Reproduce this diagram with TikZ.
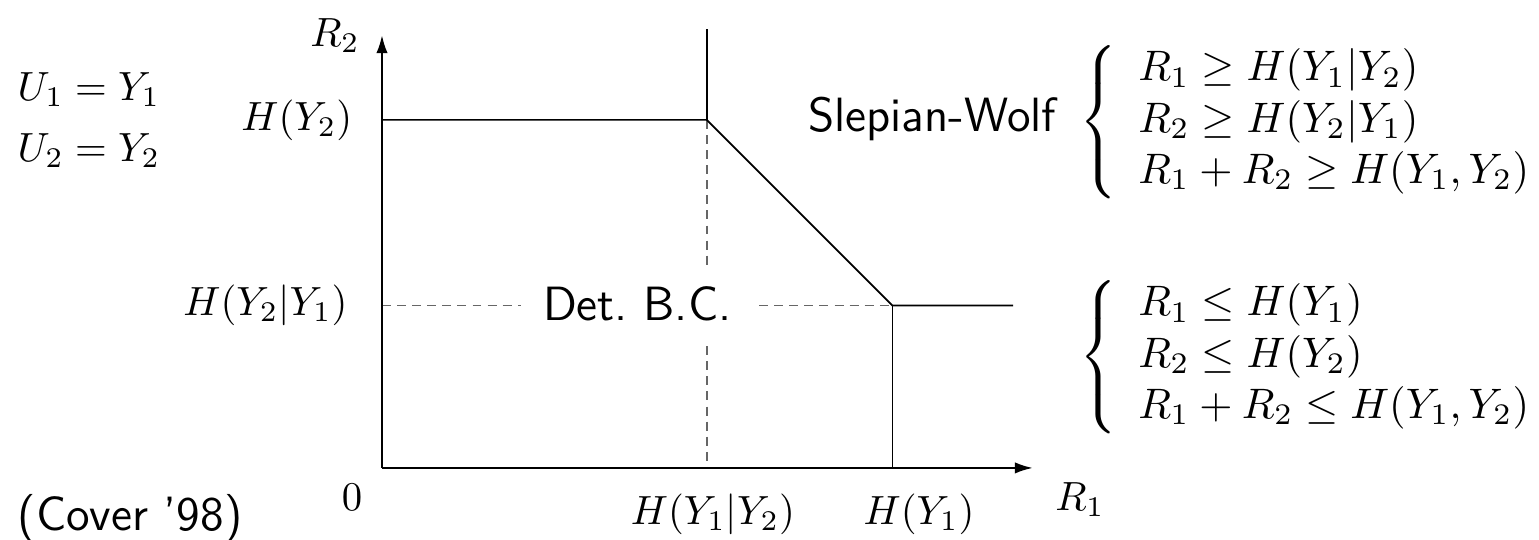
\documentclass[tikz,border=0pt]{standalone}
\usepackage{amsmath}
\usepackage{graphicx}
\usetikzlibrary{arrows.meta}

\newcommand{\condscale}[1]{\scalebox{1.046}{#1}}

\begin{document}
\begin{tikzpicture}[
            axis/.style={color=black, line width=0.5pt, -{Latex[length=4.4pt, width=2.8pt]}},
            boundary/.style={color=black, line width=0.4pt},
            guide/.style={color=black!60, line width=0.4pt, dash pattern=on 2.2pt off 1.5pt},
            mathlabel/.style={inner sep=0pt},
            condset/.style={inner sep=0pt, anchor=east},
            textlabel/.style={inner sep=0pt, font=\fontsize{11.8}{14}\selectfont\sffamily}
        ]
            \useasboundingbox (-3.293, -0.621) rectangle (9.974, 4.034);

            % corner points
            \coordinate (origin) at (0, 0);
            \coordinate (xend) at (5.61, 0);
            \coordinate (yend) at (0, 3.73);
            \coordinate (topleft) at (0, 3.0);
            \coordinate (cornerA) at (2.8, 3.0);
            \coordinate (cornerB) at (4.4, 1.4);
            \coordinate (vtop) at (2.8, 3.78);
            \coordinate (hright) at (5.44, 1.4);
            \coordinate (footA) at (2.8, 0);
            \coordinate (footB) at (4.4, 0);
            \coordinate (sideB) at (0, 1.4);

            % dashed guides
            \draw[guide] (sideB) -- (cornerB);
            \draw[guide] (cornerA) -- (footA);
            \node[textlabel, fill=white, minimum width=2cm, minimum height=0.66cm] (detbc) at (2.2, 1.414) {Det.\ B.C.};

            % axes
            \draw[axis] (origin) -- (xend);
            \draw[axis] (origin) -- (yend);

            % region boundary
            \draw[boundary] (topleft) -- (cornerA) -- (cornerB) -- (hright);
            \draw[boundary] (vtop) -- (cornerA);
            \draw[boundary] (cornerB) -- (footB);

            % axis labels
            \node[mathlabel] (rtwo) at (-0.405, 3.724) {$R_2$};
            \node[mathlabel] (rone) at (6.017, -0.27) {$R_1$};
            \node[mathlabel] (zero) at (-0.259, -0.25) {$0$};
            \node[mathlabel, anchor=east] (hytwo) at (-0.25, 3.0) {$H(Y_2)$};
            \node[mathlabel, anchor=east] (hytwocond) at (-0.29, 1.40) {$H(Y_2|Y_1)$};
            \node[mathlabel] (hyonecond) at (2.853, -0.397) {$H(Y_1|Y_2)$};
            \node[mathlabel] (hyone) at (4.63, -0.397) {$H(Y_1)$};

            % left notes
            \node[mathlabel, anchor=west] (uone) at (-3.147, 3.259) {$U_1 = Y_1$};
            \node[mathlabel, anchor=west] (utwo) at (-3.147, 2.733) {$U_2 = Y_2$};
            \node[textlabel, anchor=west] (cover) at (-3.147, -0.44) {(Cover '98)};

            % rate conditions (right)
            \node[condset] (swset) at (9.94, 2.983) {\condscale{$\left\{\begin{array}{l@{}}
                R_1 \geq H(Y_1|Y_2)\\
                R_2 \geq H(Y_2|Y_1)\\
                R_1 + R_2 \geq H(Y_1, Y_2)
            \end{array}\right.$}};
            \node[textlabel, anchor=base east] (swname) at (5.819, 2.897) {Slepian-Wolf};
            \node[condset] (bcset) at (9.94, 0.957) {\condscale{$\left\{\begin{array}{l@{}}
                R_1 \leq H(Y_1)\\
                R_2 \leq H(Y_2)\\
                R_1 + R_2 \leq H(Y_1, Y_2)
            \end{array}\right.$}};

        \end{tikzpicture}
\end{document}
